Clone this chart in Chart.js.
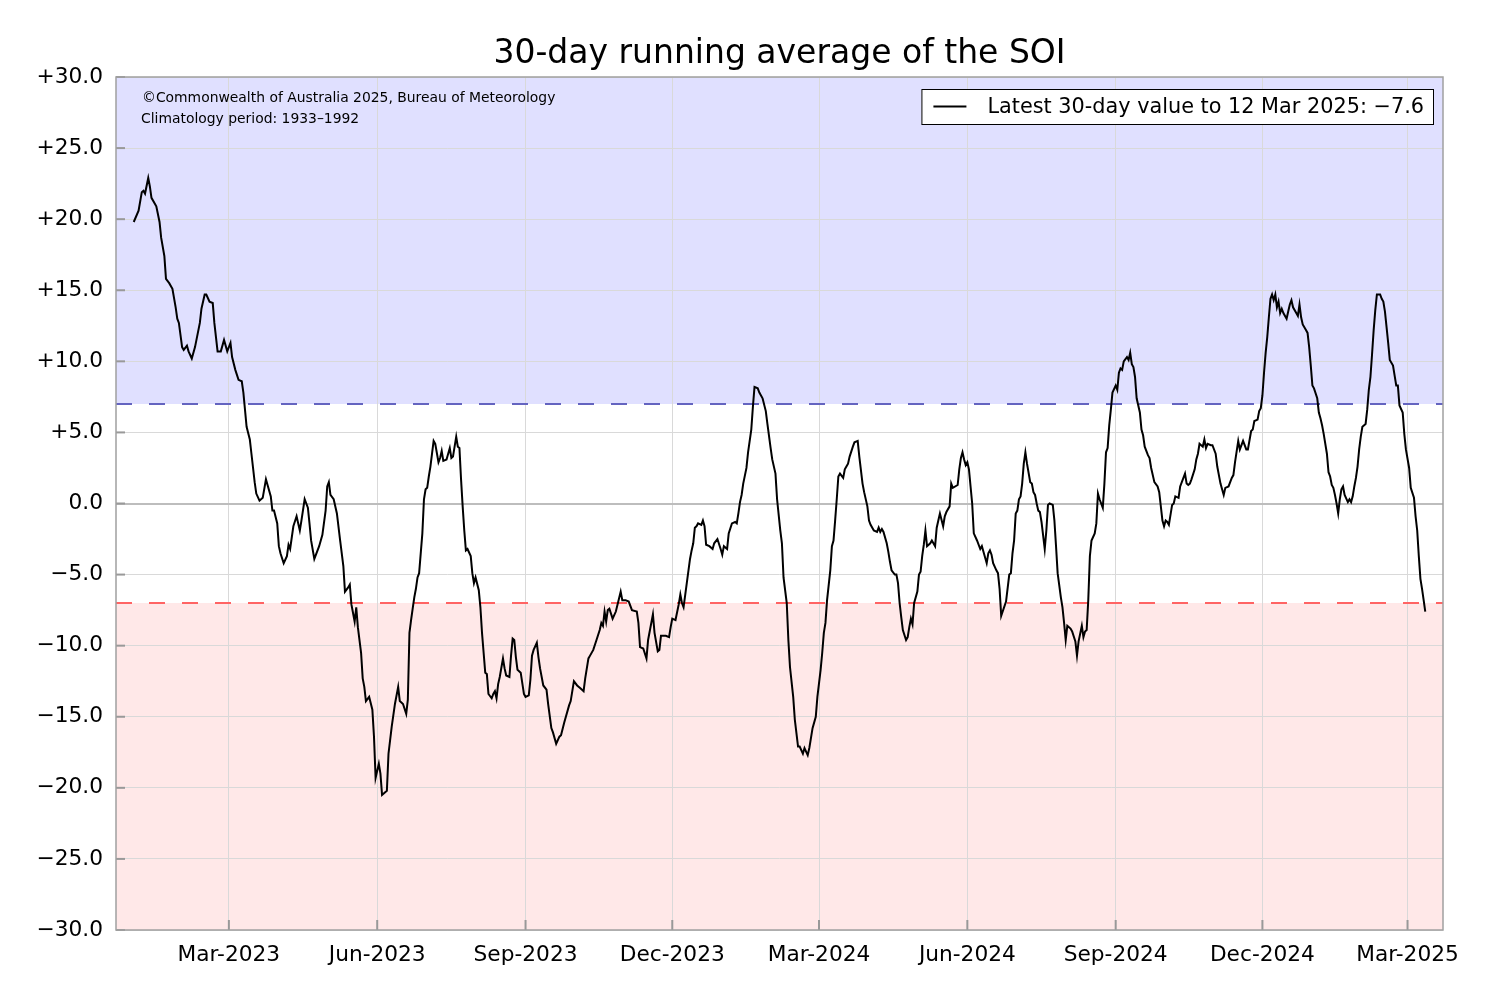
<!DOCTYPE html>
<html>
<head>
<meta charset="utf-8">
<script src="https://cdn.jsdelivr.net/npm/chart.js@4.4.1/dist/chart.umd.min.js"></script>
<style>
html,body{margin:0;padding:0;background:#fff;}
#wrap{width:1500px;height:1000px;}
</style>
</head>
<body>
<div id="wrap"><canvas id="c" width="1500" height="1000"></canvas></div>
<script>
// ---- text ----
const titleText = "30-day running average of the SOI";
const legendLabel = "Latest 30-day value to 12 Mar 2025: \u22127.6";
const creditLines = ["\u00a9Commonwealth of Australia 2025, Bureau of Meteorology", "Climatology period: 1933\u20131992"];

// ---- x axis: days since 1 Jan 2023 ----
const axisDayMin = -11;   // 21 Dec 2022
const axisDayMax = 812;   // 23 Mar 2025
const tickDays   = [59, 151, 243, 334, 425, 517, 609, 700, 790];
const tickLabels = ["Mar-2023","Jun-2023","Sep-2023","Dec-2023","Mar-2024","Jun-2024","Sep-2024","Dec-2024","Mar-2025"];

// ---- y axis ----
const yMin = -30, yMax = 30, yStep = 5;
const thresholdValues = [7, -7];

// ---- series: day offset (since 2023-01-01) and 30-day SOI ----
const days = [
0,3,5,6,7,9,10,11,14,16,17,19,20,22,24,26,27,28,30,31,33,34,36,38,41,42,44,45,47,49,50,52,54,56,58,60,61,63,65,67,68,70,72,73,75,76,78,80,82,83,85,86,87,89,90,91,93,95,96,97,99,101,103,104,106,108,109,110,112,115,117,119,120,121,122,124,126,128,130,131,133,134,135,137,138,139,141,142,143,144,146,148,149,150,152,153,154,157,158,160,162,164,165,167,169,170,171,172,173,174,175,176,177,179,180,181,182,183,184,185,186,187,189,190,191,192,194,196,197,198,200,201,202,203,204,205,206,207,209,210,211,212,214,215,216,217,218,219,220,222,223,224,225,226,227,229,230,231,233,234,235,236,237,238,240,242,243,245,246,247,248,250,251,252,254,256,257,259,260,262,264,265,267,270,271,273,275,277,279,280,282,283,285,287,289,290,291,292,293,294,295,297,299,302,303,305,307,309,312,313,314,316,318,319,322,323,325,326,327,330,332,333,334,336,338,339,340,341,343,345,346,347,348,349,350,352,353,354,355,357,359,360,362,364,365,366,368,369,371,373,374,375,376,377,378,380,381,383,384,385,387,388,390,392,393,395,396,398,399,401,402,403,405,406,407,409,410,412,413,415,416,418,419,421,423,424,426,427,428,429,430,432,433,434,435,436,437,438,440,441,442,443,444,446,447,449,450,452,453,455,456,457,459,461,462,463,464,465,467,468,469,470,472,473,474,475,476,477,479,480,481,482,483,484,486,487,488,489,490,491,492,494,495,497,498,499,500,502,503,504,506,507,508,511,512,513,514,515,516,517,518,520,521,523,525,526,527,529,530,531,532,533,535,536,537,538,541,543,544,545,546,547,548,549,550,551,552,553,554,556,557,558,559,560,561,562,563,565,566,567,568,570,571,572,573,575,576,577,578,579,581,582,584,585,586,588,589,590,591,592,593,594,596,597,598,599,601,602,603,604,605,606,607,609,610,611,612,613,614,616,617,618,619,620,621,622,624,625,626,627,629,630,631,633,635,636,637,638,639,640,641,642,644,645,646,648,649,651,652,653,654,655,656,658,659,660,661,663,664,665,666,668,669,671,672,674,676,677,679,681,682,683,685,686,688,690,691,693,694,695,697,698,699,700,701,702,703,704,705,706,707,708,709,710,711,712,713,715,716,717,718,719,721,722,723,724,725,727,728,729,730,731,732,734,735,736,737,738,740,741,742,743,744,745,746,747,748,749,750,751,753,754,755,756,757,758,759,760,761,762,764,765,766,767,768,769,770,771,773,774,775,776,777,778,779,781,782,783,784,785,787,788,789,791,792,794,795,796,797,798,799,800,801
];
const soi = [
19.8,20.6,21.9,22.0,21.8,22.9,22.3,21.5,20.9,19.8,18.7,17.4,15.8,15.5,15.1,13.8,13.0,12.7,11.0,10.8,11.1,10.7,10.2,11.0,12.7,13.7,14.7,14.7,14.2,14.1,12.7,10.7,10.7,11.5,10.7,11.3,10.3,9.4,8.7,8.6,7.8,5.4,4.5,3.5,1.5,0.7,0.2,0.4,1.7,1.3,0.5,-0.5,-0.5,-1.4,-3.0,-3.5,-4.2,-3.7,-2.9,-3.2,-1.6,-0.9,-1.9,-1.2,0.3,-0.3,-1.4,-2.6,-3.9,-3.0,-2.2,-0.5,1.2,1.5,0.6,0.3,-0.7,-2.6,-4.4,-6.2,-5.9,-5.7,-7.1,-8.3,-7.3,-8.7,-10.5,-12.3,-12.9,-13.9,-13.6,-14.5,-16.4,-19.3,-18.3,-19.0,-20.5,-20.2,-17.6,-15.7,-14.1,-12.9,-13.9,-14.1,-14.8,-13.8,-9.1,-8.2,-7.4,-6.6,-6.0,-5.2,-4.9,-2.1,0.3,1.0,1.1,1.9,2.6,3.5,4.4,4.2,2.9,3.2,3.7,3.0,3.1,3.9,3.2,3.3,4.7,4.0,3.9,1.7,-0.2,-1.9,-3.3,-3.2,-3.7,-4.9,-5.6,-5.2,-6.1,-7.3,-9.1,-10.5,-11.9,-12.0,-13.4,-13.7,-13.4,-13.2,-13.7,-12.7,-12.2,-10.9,-11.6,-12.1,-12.2,-10.7,-9.5,-9.6,-10.8,-11.7,-11.9,-13.4,-13.6,-13.5,-12.4,-10.7,-10.3,-9.8,-10.8,-11.6,-12.8,-13.1,-14.1,-15.8,-16.1,-16.9,-16.4,-16.3,-15.4,-14.2,-13.9,-12.5,-12.8,-13.0,-13.2,-12.3,-10.9,-10.7,-10.3,-9.6,-8.9,-8.4,-8.6,-7.6,-8.3,-7.5,-7.4,-8.1,-7.6,-6.2,-6.8,-6.8,-6.9,-7.5,-7.6,-8.4,-10.1,-10.2,-10.9,-9.6,-7.8,-9.1,-10.4,-10.3,-9.3,-9.3,-9.4,-8.7,-8.1,-8.2,-7.1,-6.4,-7.0,-7.3,-5.6,-3.9,-3.3,-2.8,-1.7,-1.6,-1.4,-1.5,-1.2,-1.6,-2.9,-3.0,-3.2,-2.8,-2.5,-3.2,-3.6,-3.0,-3.2,-2.1,-1.4,-1.3,-1.4,-0.7,0.1,0.6,1.4,2.5,3.6,5.2,6.8,8.2,8.1,7.8,7.4,6.5,5.6,3.9,3.1,2.1,0.3,-1.9,-2.8,-5.2,-7.0,-9.6,-11.5,-13.6,-15.2,-17.1,-17.1,-17.6,-17.2,-17.7,-17.2,-15.8,-15.0,-13.6,-11.7,-10.5,-9.1,-8.4,-6.8,-4.7,-3.0,-2.6,-1.2,0.3,1.9,2.1,1.8,2.4,2.6,2.8,3.3,4.0,4.3,4.4,3.3,1.4,0.8,-0.2,-1.2,-1.5,-1.9,-2.0,-1.7,-2.0,-1.8,-2.0,-2.8,-3.4,-4.1,-4.7,-5.0,-5.0,-5.6,-7.0,-8.0,-8.9,-9.6,-9.4,-8.7,-8.1,-8.5,-7.0,-6.2,-5.0,-4.8,-3.7,-2.9,-1.9,-3.0,-2.8,-2.6,-3.0,-1.7,-1.2,-0.7,-1.6,-0.9,-0.6,-0.2,1.4,1.1,1.3,2.4,3.2,3.6,3.1,2.7,2.9,2.4,0.0,-2.1,-2.6,-3.2,-3.0,-3.4,-4.2,-3.5,-3.3,-3.6,-4.2,-4.7,-4.9,-6.0,-7.9,-6.9,-5.0,-4.9,-3.5,-2.6,-0.7,-0.5,0.3,0.5,1.4,2.8,3.6,2.8,1.5,1.4,0.8,0.6,0.0,-0.5,-0.6,-1.3,-3.2,-1.9,-0.1,0.0,-0.1,-1.2,-3.0,-4.9,-6.6,-7.3,-8.4,-9.6,-8.6,-8.8,-9.0,-9.7,-10.7,-9.7,-8.6,-9.4,-9.0,-8.9,-6.8,-3.7,-2.6,-2.1,-1.4,0.7,0.3,-0.3,1.4,3.6,3.9,5.5,6.6,7.8,8.3,8.0,9.2,9.5,9.4,10.0,10.3,10.1,10.6,9.8,9.6,8.9,7.4,6.4,5.2,4.8,4.0,3.4,3.2,2.5,1.5,1.2,0.8,-0.2,-1.2,-1.6,-1.2,-1.3,-1.5,-0.1,0.0,0.5,0.4,1.2,1.8,2.1,1.4,1.3,1.4,1.7,2.4,3.1,3.5,4.2,4.0,4.5,3.9,4.2,4.1,4.1,3.5,2.6,1.4,0.6,1.1,1.2,1.8,2.0,2.9,4.4,3.8,4.4,3.8,3.8,5.1,5.2,5.8,5.9,6.5,6.7,7.6,9.2,10.6,11.7,13.1,14.4,14.7,14.3,14.7,13.8,14.2,13.4,13.7,13.4,13.0,13.5,14.0,14.3,13.8,13.4,13.2,14.0,13.1,12.6,12.2,12.0,11.0,9.7,8.3,8.1,7.4,6.4,6.0,5.5,4.9,3.5,2.2,1.9,1.3,1.1,0.6,0.0,-0.7,0.3,1.0,1.2,0.6,0.1,0.3,0.1,0.5,1.2,1.8,2.6,3.8,4.7,5.4,5.6,6.6,8.0,8.9,10.5,12.2,13.6,14.7,14.7,14.4,14.2,13.5,12.4,11.3,10.1,9.7,9.0,8.3,8.3,6.9,6.4,4.9,3.8,2.5,1.1,0.4,-0.9,-1.9,-3.7,-5.3,-6.0,-6.8,-7.6
];

// ---- style ----
const FONT = '"DejaVu Sans", "Liberation Sans", sans-serif';
const upperFill = '#e0e0ff';
const lowerFill = '#ffe8e8';
const upperDash = '#6464c0';
const lowerDash = '#ff6464';
const gridColor = '#d9d9d9';
const zeroColor = '#bdbdbd';
const frameColor = '#a0a0a0';
const tickMarkColor = '#999999';

function fmtY(v) {
  if (v > 0) return '+' + v.toFixed(1);
  if (v < 0) return '\u2212' + Math.abs(v).toFixed(1);
  return '0.0';
}

const bandsPlugin = {
  id: 'bands',
  beforeDraw(chart) {
    const {ctx, chartArea: a, scales: {y}} = chart;
    ctx.save();
    const yTop = y.getPixelForValue(yMax), yUp = y.getPixelForValue(thresholdValues[0]);
    const yLow = y.getPixelForValue(thresholdValues[1]), yBot = y.getPixelForValue(yMin);
    ctx.fillStyle = upperFill;
    ctx.fillRect(a.left, yTop, a.right - a.left, yUp - yTop);
    ctx.fillStyle = lowerFill;
    ctx.fillRect(a.left, yLow, a.right - a.left, yBot - yLow);
    ctx.restore();
  },
  beforeDatasetsDraw(chart) {
    const {ctx, chartArea: a, scales: {y}} = chart;
    ctx.save();
    ctx.lineWidth = 2;
    ctx.setLineDash([16, 17]);
    [[thresholdValues[0], upperDash], [thresholdValues[1], lowerDash]].forEach(([v, c]) => {
      const py = y.getPixelForValue(v);
      ctx.strokeStyle = c;
      ctx.beginPath(); ctx.moveTo(a.left, py); ctx.lineTo(a.right, py); ctx.stroke();
    });
    ctx.restore();
  }
};

const frameStuffPlugin = {
  id: 'frameStuff',
  afterDraw(chart) {
    const {ctx, chartArea: a, scales: {x, y}} = chart;
    ctx.save();
    // credit text
    ctx.fillStyle = '#000';
    ctx.font = '13.9px ' + FONT;
    ctx.textAlign = 'left';
    ctx.textBaseline = 'middle';
    ctx.fillText(creditLines[0], a.left + 26, a.top + 21);
    ctx.fillText(creditLines[1], a.left + 25, a.top + 42);
    // inward tick marks
    ctx.strokeStyle = tickMarkColor;
    ctx.lineWidth = 2;
    y.ticks.forEach(t => {
      const py = y.getPixelForValue(t.value);
      ctx.beginPath(); ctx.moveTo(a.left, py); ctx.lineTo(a.left + 9, py); ctx.stroke();
    });
    x.ticks.forEach(t => {
      const px = x.getPixelForValue(t.value);
      ctx.beginPath(); ctx.moveTo(px, a.bottom); ctx.lineTo(px, a.bottom - 10); ctx.stroke();
    });
    // frame
    ctx.strokeStyle = frameColor;
    ctx.lineWidth = 1.5;
    ctx.strokeRect(a.left, a.top, a.right - a.left, a.bottom - a.top);
    // legend
    const label = chart.data.datasets[0].label;
    ctx.font = '20.8px ' + FONT;
    const tw = ctx.measureText(label).width;
    const right = a.right - 10;
    const textX = right - 9 - tw;
    const left = textX - 66;
    const top = a.top + 12, h = 35, midY = top + h / 2;
    ctx.fillStyle = '#fff';
    ctx.fillRect(left, top, right - left, h);
    ctx.strokeStyle = '#000';
    ctx.lineWidth = 1;
    ctx.strokeRect(left + 0.5, top + 0.5, right - left, h);
    ctx.lineWidth = 2;
    ctx.beginPath(); ctx.moveTo(left + 12, midY); ctx.lineTo(left + 45, midY); ctx.stroke();
    ctx.fillStyle = '#000';
    ctx.textBaseline = 'middle';
    ctx.fillText(label, textX, midY + 1);
    ctx.restore();
  }
};

const chart = new Chart(document.getElementById('c'), {
  type: 'line',
  data: {
    datasets: [{
      label: legendLabel,
      data: days.map((d, i) => ({x: d, y: soi[i]})),
      borderColor: '#000',
      borderWidth: 2,
      pointRadius: 0,
      fill: false,
      tension: 0,
      xAxisID: 'x',
      yAxisID: 'y'
    }]
  },
  options: {
    responsive: false,
    animation: false,
    devicePixelRatio: 1,
    layout: {padding: {left: 0, right: 57, top: 0, bottom: 0}},
    plugins: {
      legend: {display: false},
      tooltip: {enabled: false},
      title: {
        display: true,
        fullSize: false,
        text: titleText,
        color: '#000',
        font: {family: FONT, size: 33, weight: 'normal'},
        padding: {top: 35, bottom: 2.4}
      }
    },
    scales: {
      x: {
        type: 'linear',
        position: 'bottom',
        min: axisDayMin,
        max: axisDayMax,
        afterBuildTicks(scale) { scale.ticks = tickDays.map(v => ({value: v})); },
        afterFit(scale) { scale.height = 70; },
        ticks: {
          autoSkip: false,
          maxRotation: 0,
          color: '#000',
          padding: 12,
          font: {family: FONT, size: 21.7},
          callback: (v) => { const i = tickDays.indexOf(v); return i >= 0 ? tickLabels[i] : ''; }
        },
        grid: {color: gridColor, lineWidth: 1, drawTicks: false},
        border: {display: false}
      },
      y: {
        type: 'linear',
        position: 'left',
        min: yMin,
        max: yMax,
        afterFit(scale) { scale.width = 116; },
        ticks: {
          stepSize: yStep,
          color: '#000',
          padding: 13,
          font: {family: FONT, size: 21.7},
          callback: (v) => fmtY(v)
        },
        grid: {
          drawTicks: false,
          color: (c) => (c.tick && c.tick.value === 0) ? zeroColor : gridColor,
          lineWidth: (c) => (c.tick && c.tick.value === 0) ? 2 : 1
        },
        border: {display: false}
      }
    }
  },
  plugins: [bandsPlugin, frameStuffPlugin]
});
</script>
</body>
</html>
